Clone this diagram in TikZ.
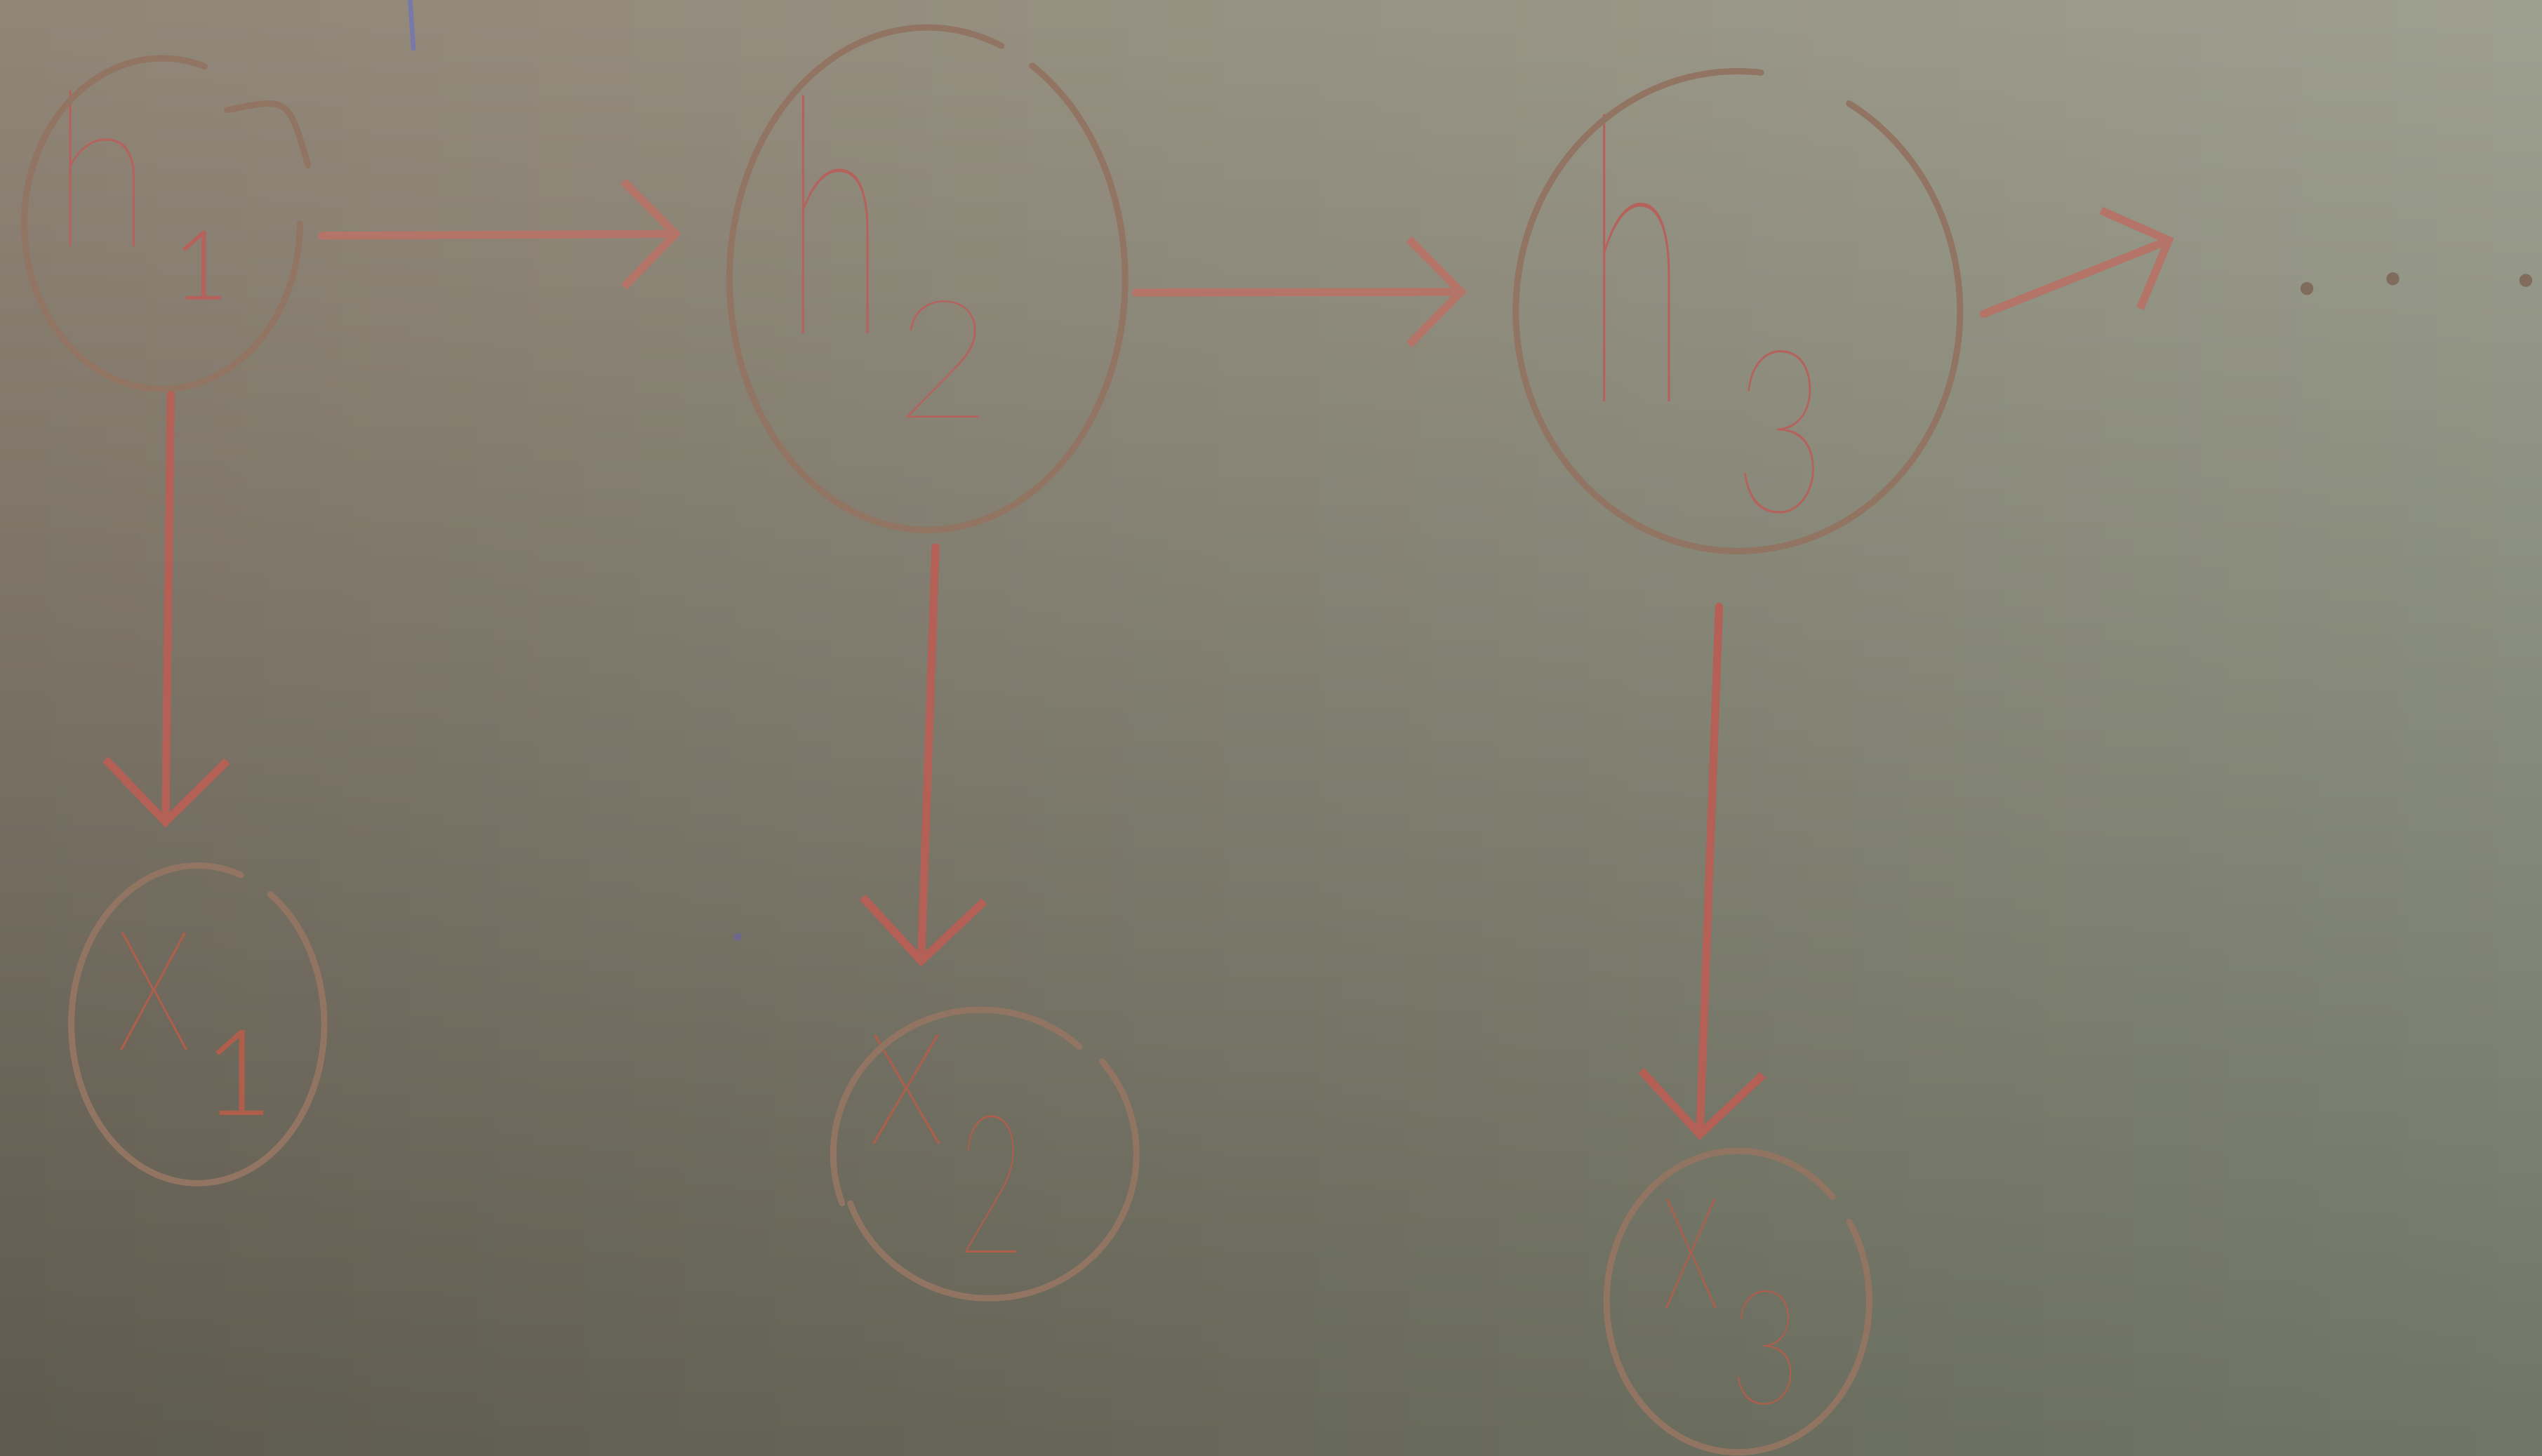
\documentclass[tikz,border=0pt]{standalone}
\usepackage{fontspec}
\usepackage{graphicx}
\usetikzlibrary{arrows.meta,shapes.geometric,fadings}

% thin marker-like lettering
\IfFontExistsTF{Lato Thin}{\newfontfamily\inkfont{Lato Thin}}{\newfontfamily\inkfont{Lato Hairline}}
\IfFontExistsTF{Lato Light}{\newfontfamily\inklight{Lato Light}}{\newfontfamily\inklight{Lato}}

\definecolor{bgTL}{RGB}{146,134,120}
\definecolor{bgTC}{RGB}{162,150,136}
\definecolor{bgTR}{RGB}{158,160,144}
\definecolor{bgBL}{RGB}{94,90,78}
\definecolor{bgBC}{RGB}{110,105,93}
\definecolor{bgBR}{RGB}{112,118,102}
\definecolor{ringcol}{RGB}{146,116,98}
\definecolor{inkred}{RGB}{182,98,92}
\definecolor{inkx}{RGB}{176,94,76}
\definecolor{linkh}{RGB}{180,116,104}
\definecolor{linkv}{RGB}{180,96,86}
\definecolor{dotcol}{RGB}{128,108,92}
\definecolor{bluemark}{RGB}{120,120,170}
\definecolor{speck}{RGB}{110,105,140}

% the lower half of the board is darker
\tikzfading[name=boarddark, top color=transparent!100, bottom color=transparent!0]

% one glyph: [font] size, horizontal squeeze, character
\newcommand\glyph[4][\inkfont]{\scalebox{#3}[1]{\fontsize{#2}{#2}#1#4}}

\tikzset{
  var/.style={ellipse, draw=none, inner sep=0pt},
  letter/.style={inner sep=0pt, anchor=base west},
  ring/.style={draw=ringcol, line width=1.1pt, line cap=round},
  hlink/.style={draw=linkh, line width=1.4pt, line cap=round,
    -{Straight Barb[length=0.32cm,width=0.65cm,line width=1.4pt]}},
  vlink/.style={draw=linkv, line width=1.4pt, line cap=round,
    -{Straight Barb[length=0.38cm,width=0.75cm,line width=1.4pt]}},
}

\begin{document}
\begin{tikzpicture}[x=0.01cm, y=0.01cm]
\useasboundingbox (0,0) rectangle (1568,-898);

% whiteboard
\shade[left color=bgTL, middle color=bgTC, right color=bgTR] (0,0) rectangle (1568,-898);
\shade[left color=bgBL, middle color=bgBC, right color=bgBR, path fading=boarddark] (0,0) rectangle (1568,-898);

% stray marks on the board
\draw[bluemark, line width=0.8pt, line cap=round] (253,0) -- (255,-30);
\fill[speck] (455,-578) circle[radius=2.5];

% hidden states
\node[var, minimum width=1.70cm, minimum height=2.04cm] (h1) at (100,-138) {};
\node[var, minimum width=2.44cm, minimum height=3.10cm] (h2) at (572,-172) {};
\node[var, minimum width=2.74cm, minimum height=2.96cm] (h3) at (1072,-192) {};

% observations
\node[var, minimum width=1.56cm, minimum height=1.96cm] (x1) at (122,-632) {};
\node[var, minimum width=1.82cm, minimum height=1.78cm] (x2) at (605,-712) {};
\node[var, minimum width=1.62cm, minimum height=1.86cm] (x3) at (1072,-803) {};

% names written inside the rings
\node[letter, text=inkred] (h1l) at (32,-152) {\glyph{38}{0.83}{h}};
\node[letter, text=inkred] (h1i) at (106,-185) {\glyph[\inklight]{17}{1}{1}};
\node[letter, text=inkred] (h2l) at (484,-206) {\glyph{58}{0.55}{h}};
\node[letter, text=inkred] (h2i) at (552,-258) {\glyph{29}{1}{2}};
\node[letter, text=inkred] (h3l) at (978,-248) {\glyph{70}{0.46}{h}};
\node[letter, text=inkred] (h3i) at (1069,-316) {\glyph{40}{0.7}{3}};
\node[letter, text=inkx] (x1l) at (70,-648) {\glyph{42}{0.74}{x}};
\node[letter, text=inkx] (x1i) at (125,-688) {\glyph[\inklight]{21}{1}{1}};
\node[letter, text=inkx] (x2l) at (534,-706) {\glyph{39}{0.8}{x}};
\node[letter, text=inkx] (x2i) at (590,-773) {\glyph{34}{0.6}{2}};
\node[letter, text=inkx] (x3l) at (1024,-807) {\glyph{39}{0.6}{x}};
\node[letter, text=inkx] (x3i) at (1066,-866) {\glyph{28}{0.77}{3}};

% hand-drawn rings, left open near the top right
\begin{scope}[shift={(h1.center)}]
  \draw[ring] (72:85 and 102) arc[start angle=72, end angle=360, x radius=85, y radius=102];
  \draw[ring] (40,70) .. controls (78,78) .. (90,36);
\end{scope}
\begin{scope}[shift={(h2.center)}]
  \draw[ring] (68:122 and 155) arc[start angle=68, end angle=200, x radius=122, y radius=155];
  \draw[ring] (58:122 and 155) arc[start angle=58, end angle=-162, x radius=122, y radius=155];
\end{scope}
\begin{scope}[shift={(h3.center)}]
  \draw[ring] (84:137 and 148) arc[start angle=84, end angle=272, x radius=137, y radius=148];
  \draw[ring] (60:137 and 148) arc[start angle=60, end angle=-92, x radius=137, y radius=148];
\end{scope}
\begin{scope}[shift={(x1.center)}]
  \draw[ring] (55:78 and 98) arc[start angle=55, end angle=-290, x radius=78, y radius=98];
\end{scope}
\begin{scope}[shift={(x2.center)}]
  \draw[ring] (48:91 and 89) arc[start angle=48, end angle=200, x radius=91, y radius=89];
  \draw[ring] ([xshift=0.05cm]40:91 and 89) arc[start angle=40, end angle=-160, x radius=91, y radius=89];
\end{scope}
\begin{scope}[shift={(x3.center)}]
  \draw[ring] (44:81 and 93) arc[start angle=44, end angle=200, x radius=81, y radius=93];
  \draw[ring] (32:81 and 93) arc[start angle=32, end angle=-160, x radius=81, y radius=93];
\end{scope}

% transitions
\draw[hlink, shorten <=0.13cm, shorten >=0.31cm] (h1.-5) -- (h2.167);
\draw[hlink, shorten <=0.06cm, shorten >=0.30cm] (h2.-4) -- (h3.175);
\coordinate (more) at (1341,-147);
\draw[hlink, shorten <=0.15cm] (h3.-3) -- (more);
\fill[dotcol] (1423,-178) circle[radius=4];
\fill[dotcol] (1476,-172) circle[radius=4];
\fill[dotcol] (1558,-173) circle[radius=4];

% emissions
\draw[vlink, shorten <=0.03cm, shorten >=0.26cm] (h1.-87) -- (x1.102);
\draw[vlink, shorten <=0.10cm, shorten >=0.34cm] (h2.-88) -- (x2.115);
\draw[vlink, shorten <=0.34cm, shorten >=0.10cm] (h3.-94) -- (x3.105);
\end{tikzpicture}
\end{document}
